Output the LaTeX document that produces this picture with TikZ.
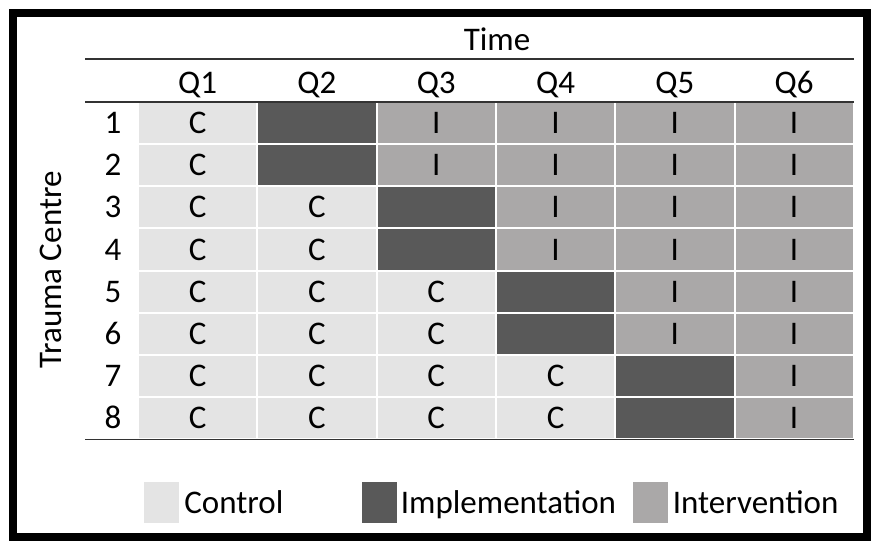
\documentclass[tikz,border=0pt]{standalone}
\usepackage{fontspec}
\setmainfont{Carlito}
\usepackage{tikz}
\usetikzlibrary{positioning}

\definecolor{ctrlgray}{HTML}{E4E4E4}
\definecolor{implgray}{HTML}{595959}
\definecolor{intgray}{HTML}{AAA8A8}

\tikzset{
	txt/.style={font=\fontsize{33}{38}\selectfont, inner sep=0pt, text height=21pt, text depth=0pt},
	cell/.style={txt, rectangle, draw=white, line width=2pt, minimum width=119.3pt, minimum height=42.15pt},
	ctrl/.style={cell, fill=ctrlgray},
	impl/.style={cell, fill=implgray},
	interv/.style={cell, fill=intgray},
	swatch/.style={rectangle, draw=none, minimum width=35pt, minimum height=41pt, inner sep=0pt},
	rule/.style={draw=black!80, line width=1.3pt}
}

\begin{document}
\begin{tikzpicture}[x=1pt, y=-1pt]
	\useasboundingbox (0,0) rectangle (871,541);
	\draw [line width=8pt] (13,13) rectangle (867,537);
	
	\node [txt] (time) at (497, 40) {Time};
	\node [txt, rotate=90] (centre) at (51, 270) {Trauma Centre};
	\foreach \q in {1,...,6}
		\node [txt] (Q\q) at ({138+119.3*(\q-0.5)}, 83) {Q\q};
	
	\foreach \r in {1,...,8} {
		\pgfmathtruncatemacro{\imp}{int((\r+1)/2)+1}
		\node [txt] (N\r) at (113, {102+42.15*(\r-0.5)}) {\r};
		\foreach \q in {1,...,6} {
			\ifnum\q<\imp
				\node [ctrl] (c-\r-\q) at ({138+119.3*(\q-0.5)}, {102+42.15*(\r-0.5)}) {C};
			\else\ifnum\q=\imp
				\node [impl] (c-\r-\q) at ({138+119.3*(\q-0.5)}, {102+42.15*(\r-0.5)}) {};
			\else
				\node [interv] (c-\r-\q) at ({138+119.3*(\q-0.5)}, {102+42.15*(\r-0.5)}) {I};
			\fi\fi
		}
	}
	
	\path [rule] (85,59) -- (854,59);
	\path [rule] (85,102) -- (854,102);
	\path [rule] (85,439.5) -- (854,439.5);
	
	% legend
	\node [swatch, fill=ctrlgray] (legC) at (161.5, 502.5) {};
	\node [txt, right=5pt of legC] (legCt) {Control};
	\node [swatch, fill=implgray] (legM) at (379, 502.5) {};
	\node [txt, right=4pt of legM] (legMt) {Implementation};
	\node [swatch, fill=intgray] (legI) at (650, 502.5) {};
	\node [txt, right=5pt of legI] (legIt) {Intervention};
\end{tikzpicture}
\end{document}
